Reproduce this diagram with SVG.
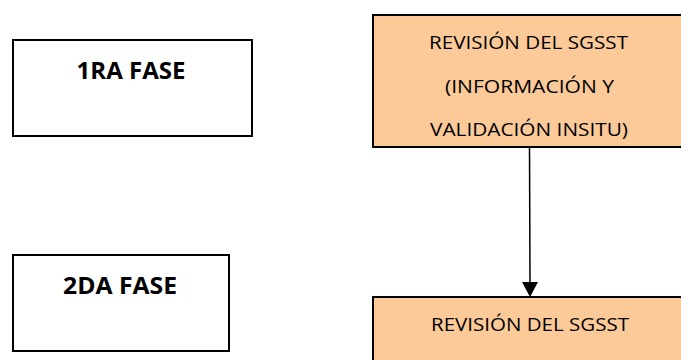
<svg xmlns="http://www.w3.org/2000/svg" width="681" height="360" viewBox="0 0 681 360">
<style>
.box{stroke:#000;stroke-width:2}
.w{fill:#fff}
.o{fill:#FBCA98}
.t{font-family:"Open Sans","Liberation Sans",sans-serif;fill:#000;text-anchor:middle}
.b{font-weight:bold;font-size:23px}
.r{font-size:18.5px}
</style>
<rect width="681" height="360" fill="#fff"/>
<g id="fase1">
<rect class="box w" x="13" y="40" width="239" height="96"/>
<text class="t b" x="131" y="79" textLength="109" lengthAdjust="spacingAndGlyphs">1RA FASE</text>
</g>
<g id="fase2">
<rect class="box w" x="13" y="255" width="216" height="96"/>
<text class="t b" x="120" y="294" textLength="114" lengthAdjust="spacingAndGlyphs">2DA FASE</text>
</g>
<g id="revision1">
<rect class="box o" x="373" y="15" width="320" height="132"/>
<text class="t r" x="528.5" y="49" textLength="199" lengthAdjust="spacingAndGlyphs">REVISIÓN DEL SGSST</text>
<text class="t r" x="529.5" y="92.5" textLength="169" lengthAdjust="spacingAndGlyphs">(INFORMACIÓN Y</text>
<text class="t r" x="529" y="136" textLength="198" lengthAdjust="spacingAndGlyphs">VALIDACIÓN INSITU)</text>
</g>
<g id="revision2">
<rect class="box o" x="373" y="297" width="320" height="80"/>
<text class="t r" x="530" y="331" textLength="198" lengthAdjust="spacingAndGlyphs">REVISIÓN DEL SGSST</text>
</g>
<g id="connectors">
<line x1="529.5" y1="148" x2="530" y2="284" stroke="#000" stroke-width="1.5"/>
<polygon points="522,282 538,282 530,297" fill="#000"/>
</g>
</svg>
